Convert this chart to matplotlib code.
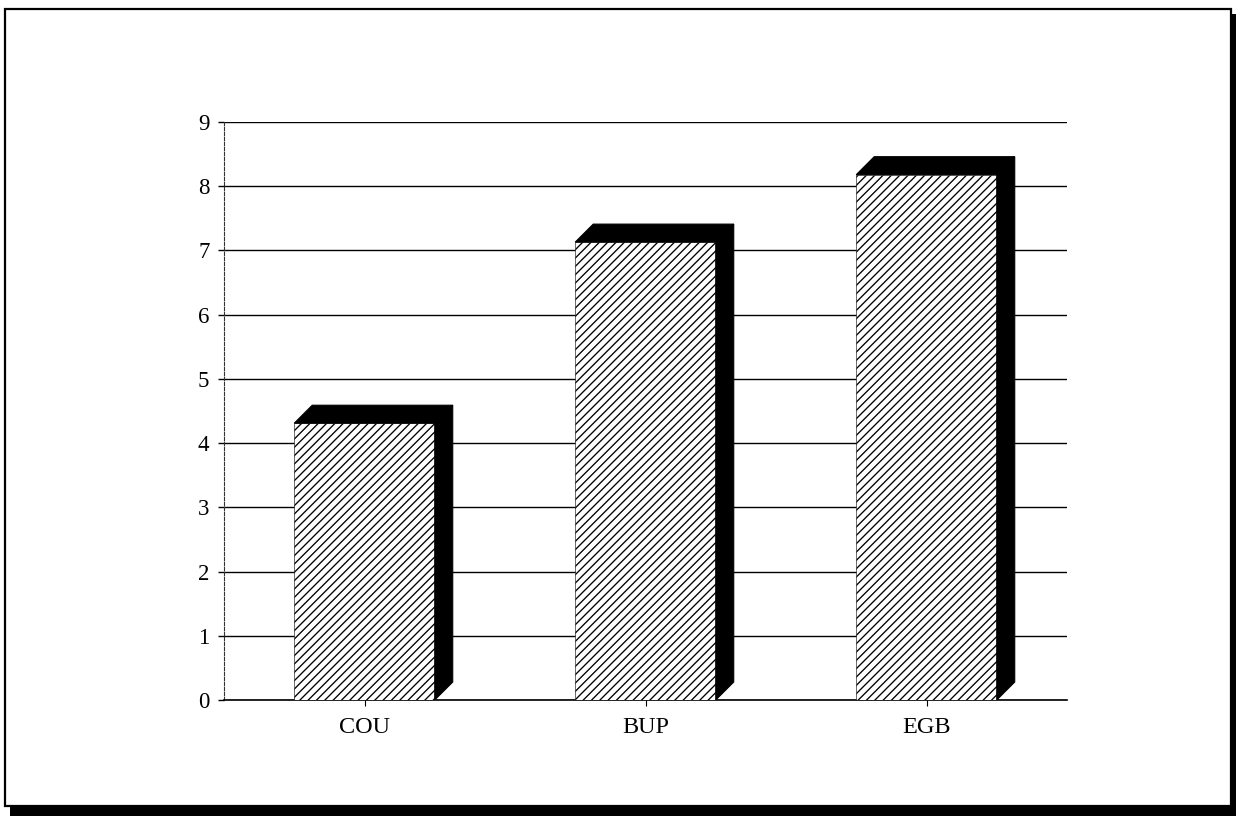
import matplotlib
matplotlib.use("Agg")
import matplotlib.pyplot as plt
from matplotlib.patches import Polygon, Rectangle

categories = ["COU", "BUP", "EGB"]
values = [4.31, 7.13, 8.18]
y_ticks = [0, 1, 2, 3, 4, 5, 6, 7, 8, 9]

plt.rcParams["font.family"] = ["Liberation Serif", "DejaVu Serif"]
plt.rcParams["hatch.linewidth"] = 0.95

W, H = 1236, 816
fig = plt.figure(figsize=(W / 100, H / 100), dpi=100)
fig.patch.set_facecolor("white")

# page frame with drop shadow
fig.patches.append(Rectangle((10 / W, 0.0), 1 - 10 / W, 1 - 14 / H,
                             transform=fig.transFigure, facecolor="black",
                             edgecolor="none", zorder=0))
fig.patches.append(Rectangle((5 / W, 1 - 806 / H), (1231 - 5) / W, (806 - 9) / H,
                             transform=fig.transFigure, facecolor="white",
                             edgecolor="black", linewidth=1.6, zorder=1))

ax = fig.add_axes([224 / W, 1 - 700 / H, (1067 - 224) / W, (700 - 122) / H])
ax.set_facecolor("none")
ax.set_zorder(2)

x = list(range(len(categories)))
bar_w = 0.5
depth_x = 0.064
depth_y = 0.28

ax.bar(x, values, width=bar_w, facecolor="white", edgecolor="black",
       linewidth=0.4, hatch="////", zorder=3)

for xi, v in zip(x, values):
    x0 = xi - bar_w / 2
    x1 = xi + bar_w / 2
    top = Polygon([(x0, v), (x1, v), (x1 + depth_x, v + depth_y),
                   (x0 + depth_x, v + depth_y)], closed=True,
                  facecolor="black", edgecolor="black", linewidth=0.8, zorder=4)
    side = Polygon([(x1, 0), (x1 + depth_x, depth_y), (x1 + depth_x, v + depth_y),
                    (x1, v)], closed=True,
                   facecolor="black", edgecolor="black", linewidth=0.8, zorder=4)
    ax.add_patch(top)
    ax.add_patch(side)

ax.set_xlim(-0.5, len(categories) - 0.5)
ax.set_ylim(0, 9)
ax.set_yticks(y_ticks)
ax.set_yticklabels([str(t) for t in y_ticks], fontsize=16.5)
ax.set_xticks(x)
ax.set_xticklabels(categories, fontsize=17.5)

ax.yaxis.grid(True, color="black", linewidth=1.0, zorder=1)
ax.set_axisbelow(True)

for s in ("top", "right"):
    ax.spines[s].set_visible(False)
ax.spines["left"].set_linestyle((0, (3, 1.5)))
ax.spines["left"].set_linewidth(0.8)
ax.spines["left"].set_color("#333333")
ax.spines["bottom"].set_linewidth(1.2)

ax.tick_params(axis="y", length=4.5, width=1.0, pad=6, colors="black")
ax.tick_params(axis="x", length=4, width=0.8, pad=8, colors="black")

fig.savefig("out.png", dpi=100, facecolor="white")
